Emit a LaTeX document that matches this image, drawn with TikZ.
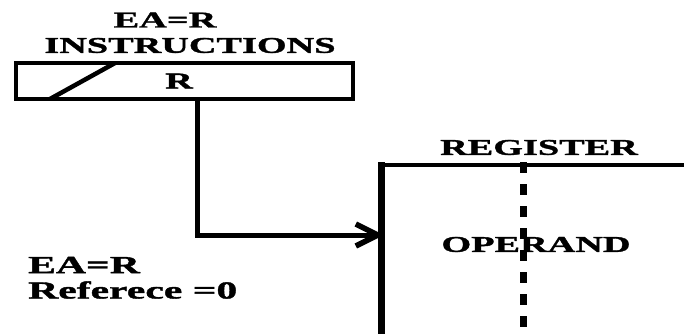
\documentclass[tikz,border=0pt]{standalone}
\usepackage{fontspec}
\newfontfamily\diagfont[FakeStretch=1.7,FakeBold=1.6]{Liberation Serif}
\usepackage{tikz}
\usetikzlibrary{arrows.meta,calc,positioning}
\colorlet{inkblack}{black}
\tikzset{
  lbl/.style={font=\diagfont\bfseries\fontsize{22.5}{24}\selectfont,inner sep=0pt},
  note/.style={font=\diagfont\bfseries\fontsize{24.5}{26}\selectfont,inner sep=0pt,anchor=west},
  box/.style={draw=inkblack,line width=4.5pt},
}
\begin{document}
\begin{tikzpicture}[x=1pt,y=-1pt,>=Latex]
\useasboundingbox (0,0) rectangle (684,333);
% instruction word
\node[lbl] (eatop) at (165,20) {EA=R};
\node[lbl] (instrlbl) at (190,45.5) {INSTRUCTIONS};
\node[box,minimum width=337pt,minimum height=36pt] (instr) at (184.5,81) {};
\node[lbl] (instrr) at (179,81) {R};
\draw[line width=4.5pt] (50,99) -- (115,63);
% register, open to the right and below
\node[lbl] (reglbl) at (539,147.5) {REGISTER};
\coordinate (regtl) at (381,165);
\draw[line width=4.5pt] (regtl) -- (690,165);
\draw[line width=7pt] (381,162) -- (381,340);
\draw[line width=7pt,dash pattern=on 11pt off 11pt] (523,162) -- (523,340);
\node[lbl] (operand) at (536,244.5) {OPERAND};
% address path
\coordinate (tap) at (197,101);
\coordinate (regin) at (384,235);
\draw[line width=5pt,-{Straight Barb[length=22pt,width=22pt,line width=5.5pt]}] (tap) |- (regin);
% note
\node[note] (eanote) at (28,265) {EA=R};
\node[note] (refnote) at (28,290) {Referece =0};
\end{tikzpicture}
\end{document}
